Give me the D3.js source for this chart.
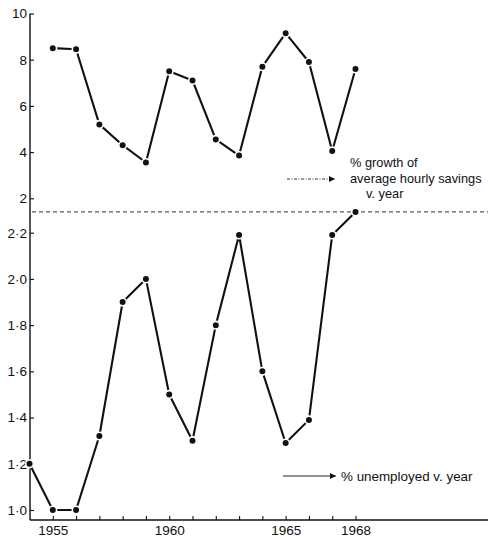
<!DOCTYPE html>
<html>
<head>
<meta charset="utf-8">
<script src="https://cdn.jsdelivr.net/npm/d3@7"></script>
<style>
  html, body { margin: 0; padding: 0; background: #fff; }
  svg { display: block; }
  text { font-family: "Liberation Sans", Arial, Helvetica, sans-serif; fill: #111; }
</style>
</head>
<body>
<svg id="chart" width="488" height="538"></svg>
<script>
// Growth of average hourly savings (%) by year
const savingsYears = [1955, 1956, 1957, 1958, 1959, 1960, 1961, 1962, 1963, 1964, 1965, 1966, 1967, 1968];
const savingsGrowth = [8.5, 8.45, 5.2, 4.3, 3.55, 7.5, 7.1, 4.55, 3.85, 7.7, 9.15, 7.9, 4.05, 7.6];

// Unemployment (%) by year
const unemploymentYears = [1954, 1955, 1956, 1957, 1958, 1959, 1960, 1961, 1962, 1963, 1964, 1965, 1966, 1967, 1968];
const unemploymentRate = [1.2, 1.0, 1.0, 1.32, 1.9, 2.0, 1.5, 1.3, 1.8, 2.19, 1.6, 1.29, 1.39, 2.19, 2.29];

// Axis ticks and labels
const savingsTicks = [2, 4, 6, 8, 10];
const unemploymentTicks = [1.0, 1.2, 1.4, 1.6, 1.8, 2.0, 2.2];
const yearTicks = [1955, 1956, 1957, 1958, 1959, 1960, 1961, 1962, 1963, 1964, 1965, 1966, 1967, 1968];
const yearLabels = [1955, 1960, 1965, 1968];
const dividerValue = 2.29; // boundary between the two panels, on the unemployment scale

const savingsLabel = ["% growth of", "average hourly savings", "v. year"];
const unemploymentLabel = "% unemployed v. year";

const svg = d3.select("#chart");
const W = 488;

const x = d3.scaleLinear().domain([1954, 1968]).range([29.5, 355.5]);
const yTop = d3.scaleLinear().domain([2, 10]).range([198.3, 13.5]);
const yBot = d3.scaleLinear().domain([1.0, 2.2]).range([510, 232.7]);

const axisX = 30;
const baseY = 520;
const ink = "#111";

// arrow head
svg.append("defs").append("marker")
  .attr("id", "head")
  .attr("viewBox", "0 0 10 10")
  .attr("refX", 10).attr("refY", 5)
  .attr("markerWidth", 7).attr("markerHeight", 6)
  .attr("markerUnits", "userSpaceOnUse")
  .attr("orient", "auto")
  .append("path").attr("d", "M0,0 L10,5 L0,10 Z").attr("fill", ink);

// vertical axis line, shared by both panels
svg.append("line")
  .attr("x1", axisX).attr("x2", axisX)
  .attr("y1", yTop(10)).attr("y2", baseY)
  .attr("stroke", ink).attr("stroke-width", 1.4);

// horizontal axis line
svg.append("line")
  .attr("x1", axisX).attr("x2", W)
  .attr("y1", baseY).attr("y2", baseY)
  .attr("stroke", ink).attr("stroke-width", 1.4);

function styleAxis(g, size) {
  g.select(".domain").remove();
  g.selectAll(".tick line").attr("stroke", ink).attr("stroke-width", 1.1);
  g.selectAll(".tick text").attr("fill", ink)
    .attr("font-family", "Liberation Sans, Arial, sans-serif")
    .style("font-size", size);
}

// upper-panel axis
svg.append("g")
  .attr("transform", `translate(${axisX},0)`)
  .call(d3.axisLeft(yTop).tickValues(savingsTicks).tickSizeInner(-4).tickSizeOuter(0).tickPadding(3)
    .tickFormat(d3.format("d")))
  .call(g => styleAxis(g, "13.5px"));

// lower-panel axis
svg.append("g")
  .attr("transform", `translate(${axisX},0)`)
  .call(d3.axisLeft(yBot).tickValues(unemploymentTicks).tickSizeInner(-4).tickSizeOuter(0).tickPadding(3)
    .tickFormat(d => d3.format(".1f")(d).replace(".", "·")))
  .call(g => styleAxis(g, "13.5px"));

// year axis
svg.append("g")
  .attr("transform", `translate(0,${baseY})`)
  .call(d3.axisBottom(x).tickValues(yearTicks).tickSizeInner(-4).tickSizeOuter(0).tickPadding(5)
    .tickFormat(d => yearLabels.includes(d) ? String(d) : ""))
  .call(g => styleAxis(g, "13.5px"));

// divider between the panels
svg.append("line")
  .attr("x1", axisX + 2).attr("x2", W)
  .attr("y1", yBot(dividerValue)).attr("y2", yBot(dividerValue))
  .attr("stroke", "#333").attr("stroke-width", 1)
  .attr("stroke-dasharray", "4,3");

function drawSeries(xs, ys, yScale) {
  const pts = xs.map((d, i) => [x(d), yScale(ys[i])]);
  svg.append("path")
    .attr("d", d3.line()(pts))
    .attr("fill", "none").attr("stroke", ink)
    .attr("stroke-width", 2.1).attr("stroke-linejoin", "round");
  svg.append("g").selectAll("circle").data(pts).join("circle")
    .attr("cx", d => d[0]).attr("cy", d => d[1]).attr("r", 3.8)
    .attr("fill", ink).attr("stroke", "#fff").attr("stroke-width", 1.6);
}

drawSeries(savingsYears, savingsGrowth, yTop);
drawSeries(unemploymentYears, unemploymentRate, yBot);

// upper-panel caption with dash-dot arrow
svg.append("line")
  .attr("x1", 287).attr("x2", 335).attr("y1", 179).attr("y2", 179)
  .attr("stroke", "#222").attr("stroke-width", 0.9)
  .attr("stroke-dasharray", "3,1.5,1,1.5")
  .attr("marker-end", "url(#head)");
const cap = svg.append("text").style("font-size", "12.8px");
cap.append("tspan").attr("x", 350).attr("y", 167).text(savingsLabel[0]);
cap.append("tspan").attr("x", 350).attr("y", 183).text(savingsLabel[1]);
cap.append("tspan").attr("x", 366).attr("y", 198).text(savingsLabel[2]);

// lower-panel caption with solid arrow
svg.append("line")
  .attr("x1", 283).attr("x2", 336).attr("y1", 476).attr("y2", 476)
  .attr("stroke", ink).attr("stroke-width", 0.9)
  .attr("marker-end", "url(#head)");
svg.append("text").attr("x", 341).attr("y", 481).style("font-size", "13.4px").text(unemploymentLabel);
</script>
</body>
</html>
